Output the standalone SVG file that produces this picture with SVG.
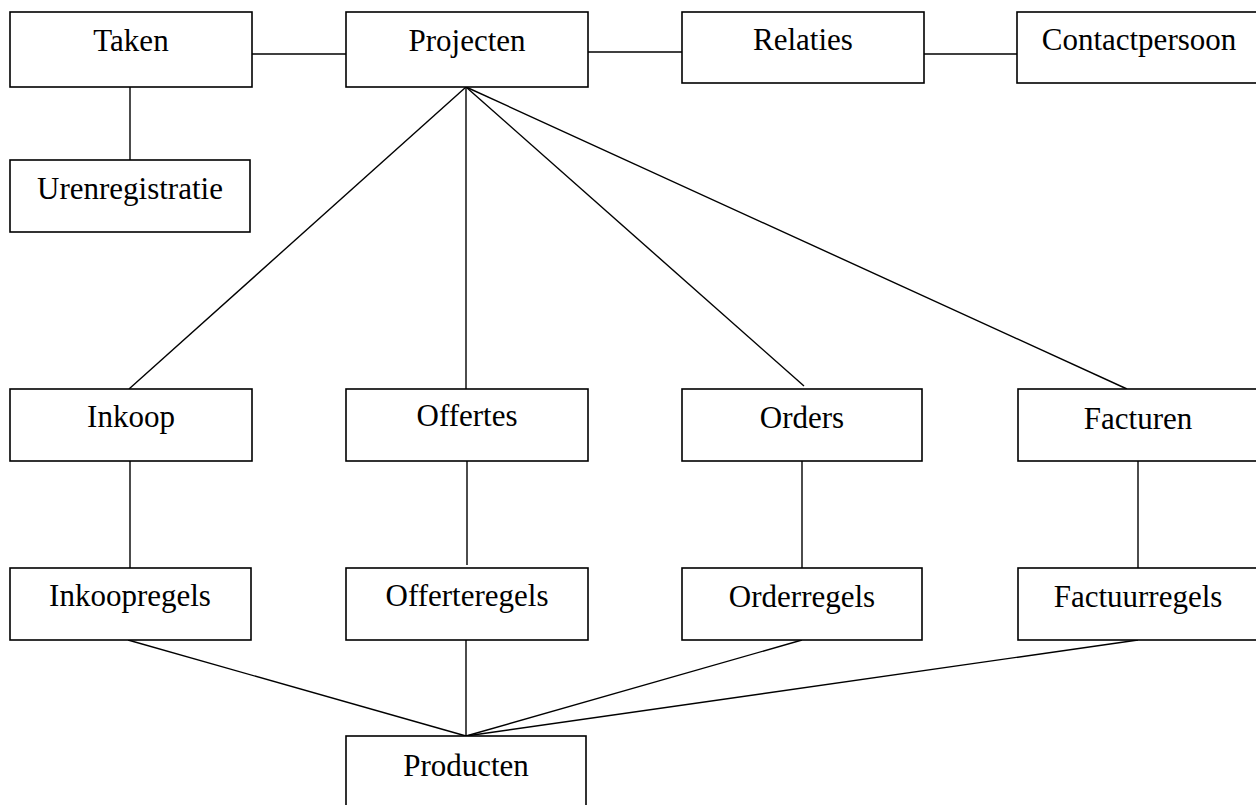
<svg xmlns="http://www.w3.org/2000/svg" width="1256" height="805" viewBox="0 0 1256 805">
<style>
.box{fill:#fff;stroke:#000;stroke-width:1.6}
.lbl{font-family:"Liberation Serif","Times New Roman",serif;font-size:31px;fill:#000;text-anchor:middle}
.conn line{stroke:#000;stroke-width:1.4}
</style>
<rect width="1256" height="805" fill="#fff"/>
<g id="connectors" class="conn">
<line x1="252" y1="54" x2="346" y2="54"/>
<line x1="588" y1="52" x2="682" y2="52"/>
<line x1="924" y1="54" x2="1017" y2="54"/>
<line x1="130" y1="87" x2="130" y2="160"/>
<line x1="466" y1="87" x2="129" y2="389"/>
<line x1="466" y1="87" x2="466" y2="389"/>
<line x1="466" y1="87" x2="804" y2="386"/>
<line x1="466" y1="87" x2="1127" y2="389"/>
<line x1="130" y1="461" x2="130" y2="568"/>
<line x1="467" y1="461" x2="467" y2="565"/>
<line x1="802" y1="461" x2="802" y2="568"/>
<line x1="1138" y1="461" x2="1138" y2="568"/>
<line x1="128" y1="640" x2="466" y2="736"/>
<line x1="466" y1="640" x2="466" y2="736"/>
<line x1="802" y1="640" x2="466" y2="736"/>
<line x1="1138" y1="640" x2="466" y2="736"/>
</g>
<g id="taken"><rect class="box" x="10" y="12" width="242" height="75"/><text class="lbl" x="131" y="51">Taken</text></g>
<g id="projecten"><rect class="box" x="346" y="12" width="242" height="75"/><text class="lbl" x="467" y="51">Projecten</text></g>
<g id="relaties"><rect class="box" x="682" y="12" width="242" height="71"/><text class="lbl" x="803" y="50">Relaties</text></g>
<g id="contactpersoon"><rect class="box" x="1017" y="12" width="250" height="71"/><text class="lbl" x="1139" y="50">Contactpersoon</text></g>
<g id="urenregistratie"><rect class="box" x="10" y="160" width="240" height="72"/><text class="lbl" x="130" y="199">Urenregistratie</text></g>
<g id="inkoop"><rect class="box" x="10" y="389" width="242" height="72"/><text class="lbl" x="131" y="427">Inkoop</text></g>
<g id="offertes"><rect class="box" x="346" y="389" width="242" height="72"/><text class="lbl" x="467" y="426">Offertes</text></g>
<g id="orders"><rect class="box" x="682" y="389" width="240" height="72"/><text class="lbl" x="802" y="428">Orders</text></g>
<g id="facturen"><rect class="box" x="1018" y="389" width="250" height="72"/><text class="lbl" x="1138" y="429">Facturen</text></g>
<g id="inkoopregels"><rect class="box" x="10" y="568" width="241" height="72"/><text class="lbl" x="130" y="606">Inkoopregels</text></g>
<g id="offerteregels"><rect class="box" x="346" y="568" width="242" height="72"/><text class="lbl" x="467" y="606">Offerteregels</text></g>
<g id="orderregels"><rect class="box" x="682" y="568" width="240" height="72"/><text class="lbl" x="802" y="607">Orderregels</text></g>
<g id="factuurregels"><rect class="box" x="1018" y="568" width="250" height="72"/><text class="lbl" x="1138" y="607">Factuurregels</text></g>
<g id="producten"><rect class="box" x="346" y="736" width="240" height="80"/><text class="lbl" x="466" y="776">Producten</text></g>
</svg>
